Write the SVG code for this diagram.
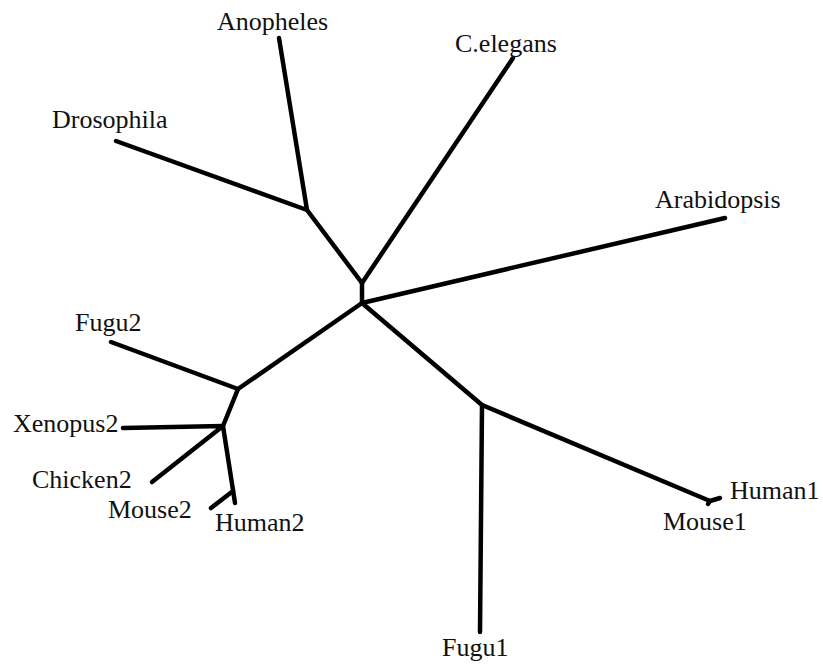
<svg xmlns="http://www.w3.org/2000/svg" width="823" height="668" viewBox="0 0 823 668">
<style>
.e{stroke:#000;stroke-width:4.5;stroke-linecap:round;stroke-linejoin:round;fill:none}
.t{font-family:"Liberation Serif","Times New Roman",serif;font-size:26px;fill:#111}
</style>
<rect width="823" height="668" fill="#fff"/>
<g id="edges">
<path class="e" d="M279 38 L307 210 L362 283 L362 303"/>
<path class="e" d="M116 141 L307 210"/>
<path class="e" d="M513 58 L362 283"/>
<path class="e" d="M362 303 L725 218"/>
<path class="e" d="M362 303 L482 405 L710 501"/>
<path class="e" d="M482 405 L480 632"/>
<path class="e" d="M708 504 L710 501 L720 498"/>
<path class="e" d="M362 303 L238 389 L111 342"/>
<path class="e" d="M238 389 L223 426 L235 503"/>
<path class="e" d="M123 428 L223 426 L152 482"/>
<path class="e" d="M233 491 L211 508"/>
</g>
<g id="Anopheles"><text class="t" x="217" y="30">Anopheles</text></g>
<g id="Celegans"><text class="t" x="455" y="52">C.elegans</text></g>
<g id="Drosophila"><text class="t" x="52" y="128">Drosophila</text></g>
<g id="Arabidopsis"><text class="t" x="655" y="208">Arabidopsis</text></g>
<g id="Fugu2"><text class="t" x="75" y="331">Fugu2</text></g>
<g id="Xenopus2"><text class="t" x="13" y="432">Xenopus2</text></g>
<g id="Chicken2"><text class="t" x="32" y="488">Chicken2</text></g>
<g id="Mouse2"><text class="t" x="108" y="518">Mouse2</text></g>
<g id="Human2"><text class="t" x="215" y="531">Human2</text></g>
<g id="Human1"><text class="t" x="730" y="499">Human1</text></g>
<g id="Mouse1"><text class="t" x="663" y="530">Mouse1</text></g>
<g id="Fugu1"><text class="t" x="442" y="656">Fugu1</text></g>
</svg>
